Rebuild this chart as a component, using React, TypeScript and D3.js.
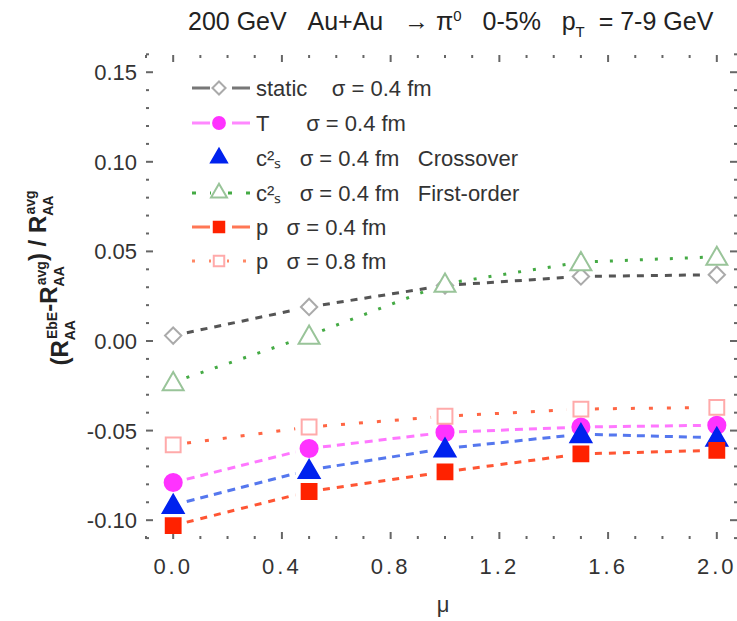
import React, { useRef, useEffect } from "react";
import * as d3 from "d3";

// data
const xValues = [0, 0.5, 1.0, 1.5, 2.0];
const staticVals = [0.003, 0.019, 0.031, 0.036, 0.037];
const tVals = [-0.079, -0.06, -0.051, -0.048, -0.047];
const crossoverVals = [-0.0915, -0.072, -0.06, -0.052, -0.054];
const firstOrderVals = [-0.023, 0.003, 0.032, 0.044, 0.047];
const p04Vals = [-0.103, -0.084, -0.073, -0.063, -0.061];
const p08Vals = [-0.058, -0.048, -0.042, -0.038, -0.037];

const xTicks = [0, 0.4, 0.8, 1.2, 1.6, 2.0];
const xTickLabels = ["0.0", "0.4", "0.8", "1.2", "1.6", "2.0"];
const yTicks = [0.15, 0.1, 0.05, 0, -0.05, -0.1];
const yTickLabels = ["0.15", "0.10", "0.05", "0.00", "-0.05", "-0.10"];

const legendLabels = [
  ["static", "    σ = 0.4 fm"],
  ["T", "      σ = 0.4 fm"],
  ["c²ₛ", "   σ = 0.4 fm   Crossover"],
  ["c²ₛ", "   σ = 0.4 fm   First-order"],
  ["p", "   σ = 0.4 fm"],
  ["p", "   σ = 0.8 fm"],
];

const series = [
  { values: staticVals, marker: "diamond", fill: "#fff", stroke: "#aaa", line: "#555", dash: "7,7", legendDash: null, legendLine: "#777" },
  { values: tVals, marker: "circle", fill: "#ff33ff", stroke: "#ff33ff", line: "#ff77ff", dash: "8,6", legendDash: null, legendLine: "#ff88ff" },
  { values: crossoverVals, marker: "triangle", fill: "#0022ee", stroke: "#0022ee", line: "#5577ee", dash: "8,6", legendDash: "0,60", legendLine: "#fff" },
  { values: firstOrderVals, marker: "triangle", fill: "#fff", stroke: "#99c499", line: "#44aa44", dash: "3,12", legendDash: "4,14", legendLine: "#44aa44" },
  { values: p04Vals, marker: "square", fill: "#ff2200", stroke: "#ff2200", line: "#ff5533", dash: "7,7", legendDash: null, legendLine: "#ff7755" },
  { values: p08Vals, marker: "square", fill: "#fff", stroke: "#ffaaaa", line: "#ff6644", dash: "4,14", legendDash: "3,14", legendLine: "#ff8866" },
];

const symbolFor = (m: string) =>
  m === "diamond" ? d3.symbolDiamond2 : m === "circle" ? d3.symbolCircle : m === "triangle" ? d3.symbolTriangle : d3.symbolSquare;

// keep runs of spaces visible in svg text
const nb = (s: string) => s.replace(/ /g, "\u00a0");

const App = () => {
  const svgRef = useRef<SVGSVGElement>(null);

  useEffect(() => {
    document.body.style.margin = "0";
    const svg = d3.select(svgRef.current);
    svg.selectAll("*").remove();

    const width = 737;
    const height = 621;
    const font = "'Liberation Sans', Arial, sans-serif";

    const x = d3.scaleLinear().domain([-0.1, 2.1]).range([146, 744]);
    const y = d3.scaleLinear().domain([-0.11, 0.16]).range([538.1, 54.3]);

    svg.attr("width", width).attr("height", height).style("background", "white");

    const g = svg.append("g");

    // ticks (no visible frame lines in the reference)
    const tickColor = "#666";
    const xMinor = d3.range(-0.1, 2.11, 0.1);
    const yMinor = d3.range(-0.11, 0.161, 0.01);
    const isMajor = (v: number, arr: number[]) => arr.some(t => Math.abs(t - v) < 1e-6);

    xMinor.forEach(v => {
      const len = isMajor(v, xTicks) ? 7 : 3;
      g.append("line").attr("x1", x(v)).attr("x2", x(v)).attr("y1", 539).attr("y2", 539 - len)
        .attr("stroke", tickColor).attr("stroke-width", 2);
      g.append("line").attr("x1", x(v)).attr("x2", x(v)).attr("y1", 55).attr("y2", 55 + len)
        .attr("stroke", tickColor).attr("stroke-width", 2);
    });
    yMinor.forEach(v => {
      const len = isMajor(v, yTicks) ? 7 : 3;
      g.append("line").attr("x1", 146).attr("x2", 146 + len).attr("y1", y(v)).attr("y2", y(v))
        .attr("stroke", tickColor).attr("stroke-width", 2);
      g.append("line").attr("x1", 737).attr("x2", 737 - len).attr("y1", y(v)).attr("y2", y(v))
        .attr("stroke", tickColor).attr("stroke-width", 2);
    });

    // tick labels
    g.selectAll(".xlab").data(xTicks).enter().append("text")
      .attr("x", d => x(d)).attr("y", 574).attr("text-anchor", "middle")
      .style("font-family", font).style("font-size", "22px").style("letter-spacing", "3px").style("fill", "#333")
      .text((d, i) => xTickLabels[i]);
    g.selectAll(".ylab").data(yTicks).enter().append("text")
      .attr("x", 137).attr("y", d => y(d) + 8).attr("text-anchor", "end")
      .style("font-family", font).style("font-size", "22px").style("fill", "#333")
      .text((d, i) => yTickLabels[i]);

    // axis titles
    g.append("text").attr("x", 443).attr("y", 612).attr("text-anchor", "middle")
      .style("font-family", font).style("font-size", "22px").style("fill", "#333").text("μ");

    const yl = g.append("text")
      .attr("transform", "translate(68,278) rotate(-90)")
      .attr("text-anchor", "middle")
      .style("font-family", font).style("font-size", "24px").style("font-weight", "bold").style("fill", "#222");
    const rTerm = (sup: string, prefix: string) => {
      yl.append("tspan").text(prefix + "R");
      yl.append("tspan").attr("dy", 7).style("font-size", "14px").text("AA");
      yl.append("tspan").attr("dx", -19).attr("dy", -18).style("font-size", "14px").text(sup);
      yl.append("tspan").attr("dy", 11).text("");
    };
    rTerm("EbE", "(");
    rTerm("avg", "-");
    rTerm("avg", nb(") / "));

    // title
    const title = g.append("text").attr("x", 188).attr("y", 30)
      .style("font-family", font).style("font-size", "25px").style("fill", "#222");
    title.append("tspan").text(nb("200 GeV   Au+Au   \u2192 \u03c0"));
    title.append("tspan").attr("dy", -9).style("font-size", "15px").text("0");
    title.append("tspan").attr("dy", 9).text(nb("   0-5%   p"));
    title.append("tspan").attr("dy", 7).style("font-size", "15px").text("T");
    title.append("tspan").attr("dy", -7).text(nb("  = 7-9 GeV"));

    // series lines with gaps at markers
    const gap = 14;
    series.forEach(s => {
      const pts = s.values.map((v, i) => [x(xValues[i]), y(v)] as [number, number]);
      for (let i = 0; i < pts.length - 1; i++) {
        const [x1, y1] = pts[i];
        const [x2, y2] = pts[i + 1];
        const len = Math.hypot(x2 - x1, y2 - y1);
        const ux = (x2 - x1) / len, uy = (y2 - y1) / len;
        g.append("path")
          .attr("d", d3.line()([[x1 + ux * gap, y1 + uy * gap], [x2 - ux * gap, y2 - uy * gap]]))
          .attr("fill", "none").attr("stroke", s.line).attr("stroke-width", 3)
          .attr("stroke-dasharray", s.dash);
      }
    });

    // markers
    series.forEach(s => {
      const size = s.marker === "triangle" ? 190 : s.marker === "diamond" ? 170 : s.marker === "circle" ? 230 : 220;
      const sym = d3.symbol().type(symbolFor(s.marker)).size(size);
      g.selectAll(null).data(s.values).enter().append("path")
        .attr("d", sym)
        .attr("transform", (d, i) => `translate(${x(xValues[i])},${y(d) + (s.marker === "triangle" ? 2 : 0)})`)
        .attr("fill", s.fill).attr("stroke", s.stroke).attr("stroke-width", 2);
    });

    // legend
    const rowY = [88, 123, 158, 193, 227, 261];
    series.forEach((s, i) => {
      const ly = rowY[i];
      const line = g.append("line").attr("x1", 192).attr("x2", 250).attr("y1", ly).attr("y2", ly)
        .attr("stroke", s.legendLine).attr("stroke-width", 3);
      if (s.legendDash) line.attr("stroke-dasharray", s.legendDash);
      else line.attr("stroke-dasharray", "18,22");
      const sym = d3.symbol().type(symbolFor(s.marker)).size(110);
      g.append("rect").attr("x", 211).attr("y", ly - 8).attr("width", 16).attr("height", 16).attr("fill", "white");
      g.append("path").attr("d", sym).attr("transform", `translate(219,${ly})`)
        .attr("fill", s.fill).attr("stroke", s.stroke).attr("stroke-width", 2);
      const t = g.append("text").attr("x", 256).attr("y", ly + 8)
        .style("font-family", font).style("font-size", "22px").style("fill", "#333");
      t.append("tspan").text(legendLabels[i][0]);
      t.append("tspan").text(nb(legendLabels[i][1]));
    });
  }, []);

  return <svg ref={svgRef}></svg>;
};

export default App;
